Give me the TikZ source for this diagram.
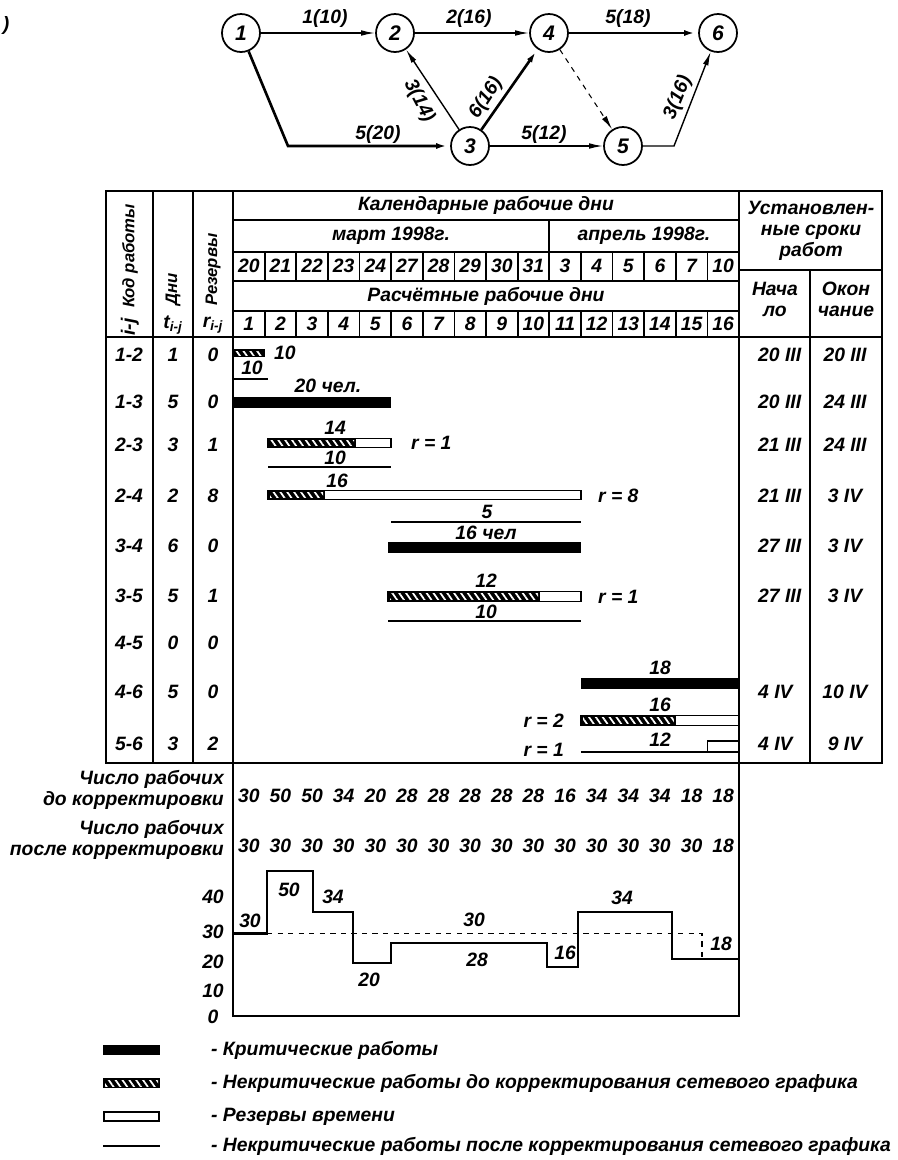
\documentclass[tikz,border=0pt]{standalone}
\usepackage{fontspec}
\setmainfont{Liberation Sans}
\usetikzlibrary{arrows.meta,patterns.meta}

\begin{document}
\begin{tikzpicture}[x=0.02cm,y=-0.02cm,
  font=\bfseries\itshape\fontsize{11}{12}\selectfont,
  ev/.style={circle,draw,line width=1pt,minimum size=0.76cm,inner sep=0pt,
    font=\bfseries\itshape\fontsize{12}{12}\selectfont},
  arr/.style={-{Latex[length=8pt,width=3.2pt]},line width=0.8pt},
  krit/.style={arr,line width=1.5pt},
  tab/.style={line width=1pt},
  vert/.style={rotate=90,anchor=west,inner sep=1pt,font=\bfseries\itshape\fontsize{9.5}{12}\selectfont},
  hatch/.style={pattern={Lines[angle=-55,distance=3.2pt,line width=1pt]},pattern color=white},
  resv/.style={draw,fill=white,line width=1pt}]
\useasboundingbox (0,0) rectangle (898,1160);

% network graph
\node (fig) at (6,25) {)};
\node[ev] (n1) at (241,33) {1};
\node[ev] (n2) at (395,33) {2};
\node[ev] (n4) at (549,33) {4};
\node[ev] (n6) at (718,33) {6};
\node[ev] (n3) at (470,146) {3};
\node[ev] (n5) at (623,146) {5};
\coordinate (c13) at (288,146);
\coordinate (c56) at (674,146);
\draw[arr] (n1) -- (n2);
\draw[arr] (n2) -- (n4);
\draw[krit] (n4) -- (n6);
\draw[krit] (n1) -- (c13) -- (n3);
\draw[arr] (n3) -- (n2);
\draw[krit] (n3) -- (n4);
\draw[arr] (n3) -- (n5);
\draw[arr,dashed,line width=0.6pt] (n4) -- (n5);
\draw[arr] (n5) -- (c56) -- (n6);
\node at (325,19) {1(10)};
\node at (469,19) {2(16)};
\node at (628,19) {5(18)};
\node at (378,134) {5(20)};
\node at (544,134) {5(12)};
\node[rotate=-62] at (419,101) {3(14)};
\node[rotate=57] at (486,98) {6(16)};
\node[rotate=68] at (678,98) {3(16)};

% table frame
\draw[tab] (106,191) rectangle (882,763);
\draw[tab] (106,337) -- (882,337);
\foreach \x in {153,193} \draw[tab] (\x,191) -- (\x,763);
\draw[tab] (233,191) -- (233,1016) -- (739,1016) -- (739,191);
\draw[tab] (739,270) -- (882,270);
\draw[tab] (810,270) -- (810,763);
\foreach \y in {220,252,281,311} \draw[tab] (233,\y) -- (739,\y);
\draw[tab] (549.3,220) -- (549.3,252);
\foreach \i in {1,...,15} {
  \draw[tab] ({233+\i*31.625},252) -- ({233+\i*31.625},281);
  \draw[tab] ({233+\i*31.625},311) -- ({233+\i*31.625},337);
}

% header
\node[vert] at (130,310) {Код работы};
\node[rotate=90] at (130,327) {i-j};
\node[vert] at (173,308) {Дни};
\node at (173,325) {t\textsubscript{i-j}};
\node[vert] at (213,308) {Резервы};
\node at (213,325) {r\textsubscript{i-j}};
\node at (486,205) {Календарные рабочие дни};
\node at (391,236) {март 1998г.};
\node at (644,236) {апрель 1998г.};
\foreach \d [count=\i] in {20,21,22,23,24,27,28,29,30,31,3,4,5,6,7,10}
  \node at ({233+(\i-0.5)*31.625},266) {\d};
\node at (486,296) {Расчётные рабочие дни};
\foreach \i in {1,...,16}
  \node at ({233+(\i-0.5)*31.625},324) {\i};
\node[align=center] at (811,231) {Установлен-\\ные сроки\\работ};
\node[align=center] at (775,299) {Нача\\ло};
\node[align=center] at (846,299) {Окон\\чание};

% rows
\foreach \k/\t/\r/\y in {1-2/1/0/355,1-3/5/0/402,2-3/3/1/445,2-4/2/8/496,
    3-4/6/0/546,3-5/5/1/596,4-5/0/0/643,4-6/5/0/692,5-6/3/2/744} {
  \node at (129,\y) {\k};
  \node at (173,\y) {\t};
  \node at (213,\y) {\r};
}
\foreach \a/\b/\y in {20 III/20 III/355,20 III/24 III/402,21 III/24 III/445,
    21 III/3 IV/496,27 III/3 IV/546,27 III/3 IV/596,4 IV/10 IV/692,4 IV/9 IV/744} {
  \node[anchor=west] at (752,\y) {\a};
  \node at (845,\y) {\b};
}

% bars
\fill (233,349) rectangle (264.6,357);
\fill[hatch] (235,351) rectangle (262.6,355);
\node[anchor=west] at (268,353) {10};
\node at (252,368) {10};
\draw[tab] (233,379) -- (268,379);
\node at (328,386) {20 чел.};
\fill (233,397) rectangle (391.1,408);
\node at (335,428) {14};
\draw[resv] (268,438.5) rectangle (391.1,447.5);
\fill (268,438) rectangle (356,448);
\fill[hatch] (270,440.5) rectangle (354,445.5);
\node[anchor=west] at (405,443) {r = 1};
\node at (335,458) {10};
\draw[tab] (268,467) -- (391.1,467);
\node at (337,481) {16};
\draw[resv] (268,490.5) rectangle (580.9,499.5);
\fill (268,490) rectangle (325,500);
\fill[hatch] (270,492.5) rectangle (323,497.5);
\node[anchor=west] at (592,496) {r = 8};
\node at (487,512) {5};
\draw[tab] (391.1,522) -- (580.9,522);
\node at (486,533) {16 чел};
\fill (388,542) rectangle (580.9,553);
\node at (486,581) {12};
\draw[resv] (388,591.5) rectangle (580.9,601.5);
\fill (388,591) rectangle (540,602);
\fill[hatch] (390,593.5) rectangle (538,599.5);
\node[anchor=west] at (592,597) {r = 1};
\node at (486,612) {10};
\draw[tab] (388,621) -- (580.9,621);
\node at (660,668) {18};
\fill (580.9,678) rectangle (739,689);
\node at (660,705) {16};
\draw[resv] (580.9,715.5) rectangle (739,725.5);
\fill (580.9,715) rectangle (675.8,726);
\fill[hatch] (583,717.5) rectangle (673.8,723.5);
\node[anchor=east] at (570,721) {r = 2};
\node at (660,740) {12};
\draw[tab] (580.9,752) -- (739,752);
\draw[resv] (707.4,741) rectangle (739,752);
\node[anchor=east] at (570,750) {r = 1};

% workers
\node[align=right,anchor=east] at (230,790) {Число рабочих\\до корректировки};
\foreach \v [count=\i] in {30,50,50,34,20,28,28,28,28,28,16,34,34,34,18,18}
  \node at ({233+(\i-0.5)*31.625},796) {\v};
\node[align=right,anchor=east] at (230,840) {Число рабочих\\после корректировки};
\foreach \v [count=\i] in {30,30,30,30,30,30,30,30,30,30,30,30,30,30,30,18}
  \node at ({233+(\i-0.5)*31.625},846) {\v};

% load chart
\foreach \v/\y in {40/897,30/932,20/962,10/991,0/1017}
  \node at (213,\y) {\v};
\draw[line width=1.3pt] (233,933.5) -- (267,933.5) -- (267,871) -- (313,871) -- (313,912)
  -- (353,912) -- (353,963) -- (391,963) -- (391,943) -- (547,943) -- (547,967)
  -- (578,967) -- (578,912) -- (672,912) -- (672,959) -- (739,959);
\draw[dashed,line width=1pt] (267,933.5) -- (702,933.5) -- (702,959);
\node at (250,921) {30};
\node at (289,890) {50};
\node at (333,897) {34};
\node at (369,980) {20};
\node at (474,920) {30};
\node at (477,960) {28};
\node at (565,953) {16};
\node at (622,898) {34};
\node at (721,944) {18};

% legend
\fill (103,1045) rectangle (160,1055);
\node[anchor=west] at (205,1050) {- Критические работы};
\fill (103,1078) rectangle (160,1088);
\fill[hatch] (105,1080) rectangle (158,1086);
\node[anchor=west] at (205,1083) {- Некритические работы до корректирования сетевого графика};
\draw[resv] (104,1112) rectangle (159,1121);
\node[anchor=west] at (205,1117) {- Резервы времени};
\draw[tab] (103,1146) -- (160,1146);
\node[anchor=west] at (205,1146) {- Некритические работы после корректирования сетевого графика};
\end{tikzpicture}
\end{document}
